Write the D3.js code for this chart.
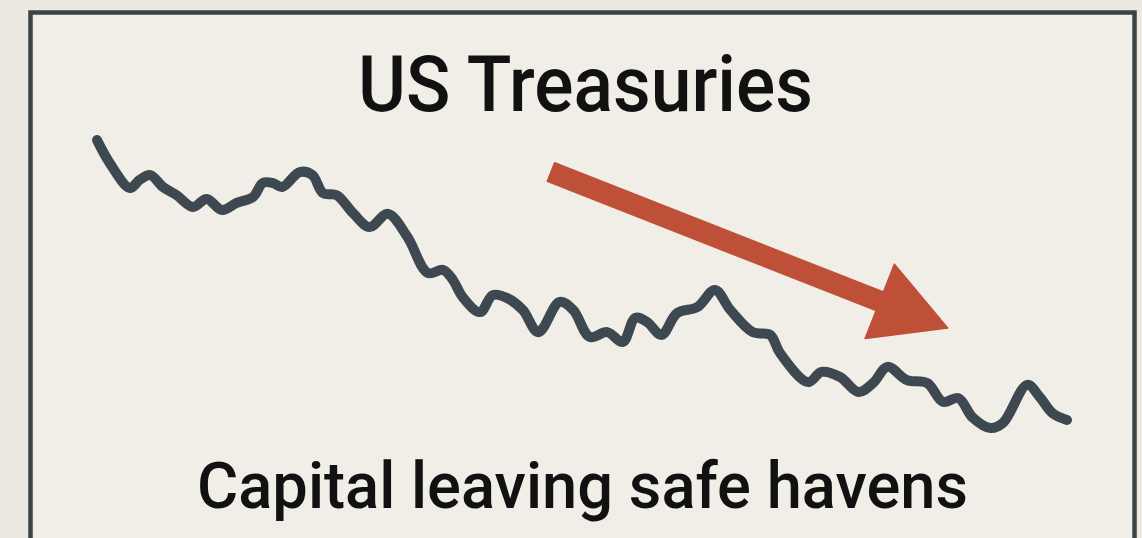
<!DOCTYPE html>
<html>
<head>
<meta charset="utf-8">
<script src="https://cdn.jsdelivr.net/npm/d3@7"></script>
<style>
  body { margin: 0; background: #ece9e3; }
  svg { display: block; }
</style>
</head>
<body>
<div id="chart"></div>
<script>
var svgWidth = 1142;
var svgHeight = 538;

// time index (0-100) and price level
var weeks = [0, 1.3, 3.4, 4.4, 5.5, 6.8, 8.2, 9.9, 11.3, 12.9, 14.4, 16.1, 17.1, 18.1, 19.1,
  20.9, 22.2, 23.3, 24.7, 26.4, 28.1, 30.0, 32.0, 34.1, 35.7, 36.7, 37.7, 39.5, 40.8,
  42.3, 43.9, 45.5, 47.7, 49.1, 50.8, 52.6, 54.2, 55.5, 56.7, 58.2, 59.8, 61.9, 63.7,
  65.3, 67.6, 69.4, 70.4, 73.3, 74.7, 76.6, 78.5, 80.0, 81.5, 83.5, 85.6, 87.2, 88.8,
  90.3, 92.1, 93.4, 95.9, 97.2, 98.5, 100];
var prices = [94.1, 87.4, 80.0, 82.4, 83.8, 80.3, 77.9, 74.4, 76.8, 73.5, 75.6, 77.4, 81.5, 81.5, 80.3,
  84.7, 83.8, 78.5, 77.9, 72.6, 68.5, 72.4, 65.6, 55.0, 55.9, 52.9, 47.9, 43.5, 48.5,
  47.6, 44.1, 37.6, 46.5, 44.1, 36.2, 37.6, 34.7, 41.8, 40.6, 36.8, 43.2, 45.0, 50.0,
  44.1, 37.6, 36.8, 31.5, 22.9, 25.9, 24.4, 20.0, 22.6, 27.4, 23.5, 22.6, 17.1, 18.2,
  12.4, 9.4, 10.9, 22.1, 18.5, 13.8, 11.8];

// trend arrow, from / to in the same units
var arrowFrom = [46.8, 84.7];
var arrowTo = [87.7, 38.8];

var titleText = "US Treasuries";
var captionText = "Capital leaving safe havens";

var data = weeks.map(function(w, i) { return { week: w, price: prices[i] }; });

var svg = d3.select("#chart")
  .append("svg")
  .attr("width", svgWidth)
  .attr("height", svgHeight);

svg.append("rect")
  .attr("x", 30.5)
  .attr("y", 12.5)
  .attr("width", 1104)
  .attr("height", 560)
  .attr("fill", "#f1eee8")
  .attr("stroke", "#3d4245")
  .attr("stroke-width", 4.5);

var xScale = d3.scaleLinear().domain([0, 100]).range([97, 1067]);
var yScale = d3.scaleLinear().domain([0, 100]).range([460, 120]);

var line = d3.line()
  .x(d => xScale(d.week))
  .y(d => yScale(d.price))
  .curve(d3.curveCatmullRom.alpha(0.5));

svg.append("path")
  .datum(data)
  .attr("d", line)
  .attr("fill", "none")
  .attr("stroke", "#3e4850")
  .attr("stroke-width", 10)
  .attr("stroke-linejoin", "round")
  .attr("stroke-linecap", "round");

// arrow built along the from -> to direction
var ax0 = xScale(arrowFrom[0]), ay0 = yScale(arrowFrom[1]);
var ax1 = xScale(arrowTo[0]), ay1 = yScale(arrowTo[1]);
var len = Math.hypot(ax1 - ax0, ay1 - ay0);
var ux = (ax1 - ax0) / len, uy = (ay1 - ay0) / len;
var nx = -uy, ny = ux;
var headLen = 73, headHalf = 40, shaftHalf = 10;
var bx = ax1 - ux * headLen, by = ay1 - uy * headLen;
var arrowPts = [
  [ax0 + nx * shaftHalf, ay0 + ny * shaftHalf],
  [bx + nx * shaftHalf, by + ny * shaftHalf],
  [bx + nx * headHalf, by + ny * headHalf],
  [ax1, ay1],
  [bx - nx * headHalf, by - ny * headHalf],
  [bx - nx * shaftHalf, by - ny * shaftHalf],
  [ax0 - nx * shaftHalf, ay0 - ny * shaftHalf]
];

svg.append("polygon")
  .attr("points", arrowPts.map(p => p.join(",")).join(" "))
  .attr("fill", "#bf5038")
  .attr("stroke", "#bf5038")
  .attr("stroke-width", 1.5)
  .attr("stroke-linejoin", "round");

svg.append("text")
  .attr("x", 585.5)
  .attr("y", 111)
  .attr("text-anchor", "middle")
  .attr("font-family", "Roboto, sans-serif")
  .attr("font-weight", 500)
  .attr("font-size", "78px")
  .attr("textLength", 455)
  .attr("lengthAdjust", "spacingAndGlyphs")
  .attr("fill", "#111")
  .text(titleText);

svg.append("text")
  .attr("x", 582.5)
  .attr("y", 508)
  .attr("text-anchor", "middle")
  .attr("font-family", "Roboto, sans-serif")
  .attr("font-weight", 500)
  .attr("font-size", "65px")
  .attr("textLength", 771)
  .attr("lengthAdjust", "spacingAndGlyphs")
  .attr("fill", "#111")
  .text(captionText);
</script>
</body>
</html>
